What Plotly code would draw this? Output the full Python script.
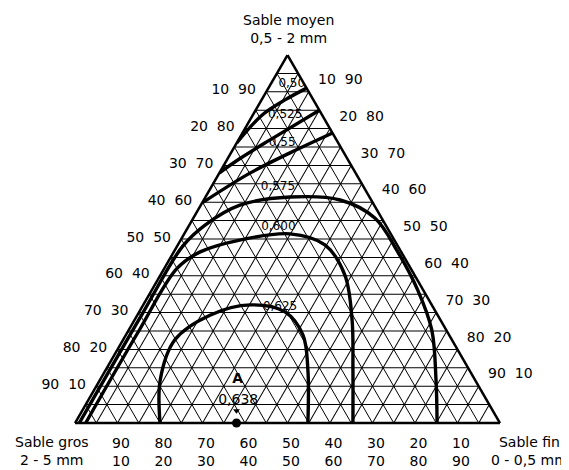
import plotly.graph_objects as go

# ---- tick values / labels ----
axis_ticks = list(range(5, 100, 5))
left_labels = [f"{100 - v}  {v}" if v % 10 == 0 else "" for v in axis_ticks]      # gros, moyen
bottom_labels = [f"{v}<br>{100 - v}" if v % 10 == 0 else "" for v in axis_ticks]  # gros / fin
right_labels = [f"{v}  {100 - v}" if v % 10 == 0 else "" for v in axis_ticks]     # fin, moyen

# ---- iso-compactness curves (Sable moyen %, Sable fin %) ----
c050_moyen = [91.0, 87.8, 83.7, 76.1]
c050_fin = [9.0, 5.5, 2.2, 0.0]

c0525_moyen = [85.0, 77.0, 72.0, 68.0]
c0525_fin = [15.0, 7.5, 3.0, 0.0]

c055_moyen = [78.8, 73.4, 67.9, 59.8]
c055_fin = [21.2, 13.9, 7.2, 0.0]

c0575_moyen = [0.0, 30.0, 48.0, 53.8, 59.2, 61.4, 60.6, 55.7, 46.5, 36.1, 25.3, 11.7, 0.0]
c0575_fin = [1.0, 1.0, 1.3, 3.7, 9.2, 19.9, 32.1, 42.7, 52.7, 62.6, 71.3, 79.1, 85.2]

c0600_moyen = [0.0, 25.0, 42.0, 46.5, 49.7, 51.4, 48.4, 40.2, 28.0, 14.4, 0.0]
c0600_fin = [2.5, 2.5, 3.0, 6.2, 13.9, 24.9, 34.6, 43.4, 51.2, 58.2, 65.4]

c0625_moyen = [0.0, 11.7, 22.6, 29.3, 32.1, 30.2, 23.9, 14.4, 0.0]
c0625_fin = [20.0, 14.2, 12.2, 17.1, 25.2, 34.3, 41.7, 47.6, 54.8]

curves = [
    (c050_moyen, c050_fin),
    (c0525_moyen, c0525_fin),
    (c055_moyen, c055_fin),
    (c0575_moyen, c0575_fin),
    (c0600_moyen, c0600_fin),
    (c0625_moyen, c0625_fin),
]

# ---- curve labels ----
label_text = ["0,50", "0,525", "0,55", "0,575", "0,600", "0,625"]
label_moyen = [92.0, 83.7, 76.1, 64.1, 53.3, 31.5]
label_fin = [5.0, 7.6, 10.7, 15.7, 21.2, 32.5]

# ---- point A ----
pointA_moyen = [0.0]
pointA_fin = [38.0]
pointA_value = "0,638"

W, H = 569, 470
M = dict(l=67, r=77, t=47, b=55)
PAGE_OFFSET = 8  # page margin of the html body
FONT = "DejaVu Sans"


def paper_xy(px, py):
    px -= PAGE_OFFSET
    py -= PAGE_OFFSET
    return ((px - M["l"]) / (W - M["l"] - M["r"]),
            (H - M["b"] - py) / (H - M["t"] - M["b"]))


def gros(m_list, f_list):
    return [100 - m - f for m, f in zip(m_list, f_list)]


fig = go.Figure()

for m, f in curves:
    fig.add_trace(go.Scatterternary(
        a=m, c=f, b=gros(m, f),
        mode="lines", line=dict(color="black", width=3.4, shape="spline", smoothing=1),
        hoverinfo="skip", showlegend=False, cliponaxis=False))

fig.add_trace(go.Scatterternary(
    a=label_moyen, c=label_fin, b=gros(label_moyen, label_fin),
    mode="text", text=label_text,
    textfont=dict(family=FONT, size=12, color="black"),
    showlegend=False, hoverinfo="skip"))

fig.add_trace(go.Scatterternary(
    a=pointA_moyen, c=pointA_fin, b=gros(pointA_moyen, pointA_fin),
    mode="markers", marker=dict(color="black", size=9),
    showlegend=False, hoverinfo="skip", cliponaxis=False))

# small arrow pointing down to A
arrow_m = [pointA_moyen[0] + 3.3]
arrow_f = [pointA_fin[0] - 1.65]
fig.add_trace(go.Scatterternary(
    a=arrow_m, c=arrow_f, b=gros(arrow_m, arrow_f),
    mode="markers", marker=dict(color="black", size=6, symbol="triangle-down"),
    showlegend=False, hoverinfo="skip"))

A_lab_m = [pointA_moyen[0] + 11.7, pointA_moyen[0] + 6.2]
A_lab_f = [pointA_fin[0] - 5.6, pointA_fin[0] - 2.7]
fig.add_trace(go.Scatterternary(
    a=A_lab_m, c=A_lab_f, b=gros(A_lab_m, A_lab_f),
    mode="text", text=["<b>A</b>", pointA_value],
    textfont=dict(family=FONT, size=14, color="black"),
    showlegend=False, hoverinfo="skip"))

axis_common = dict(
    tickvals=axis_ticks, showgrid=True, gridcolor="black", gridwidth=1.3,
    showline=True, linecolor="black", linewidth=2.5,
    ticks="outside", tickcolor="rgba(0,0,0,0)",
    tickfont=dict(family=FONT, size=14, color="black"),
    min=0, title=dict(text=""),
)

fig.update_layout(
    width=W, height=H,
    paper_bgcolor="white", plot_bgcolor="white",
    margin=M,
    ternary=dict(
        sum=100, bgcolor="white",
        aaxis=dict(axis_common, ticktext=left_labels, ticklen=7),
        baxis=dict(axis_common, ticktext=bottom_labels, ticklen=7),
        caxis=dict(axis_common, ticktext=right_labels, ticklen=12),
    ),
)

titles = [
    ("Sable moyen<br>0,5 - 2 mm", 288, 28.5),
    ("Sable gros<br>2 - 5 mm", 52, 451),
    ("Sable fin<br>0 - 0,5 mm", 529, 451),
]
for txt, px, py in titles:
    x, y = paper_xy(px, py)
    fig.add_annotation(x=x, y=y, xref="paper", yref="paper", text=txt,
                       showarrow=False, align="center", xanchor="center", yanchor="middle",
                       font=dict(family=FONT, size=14, color="black"))

fig.write_html("out.html")
